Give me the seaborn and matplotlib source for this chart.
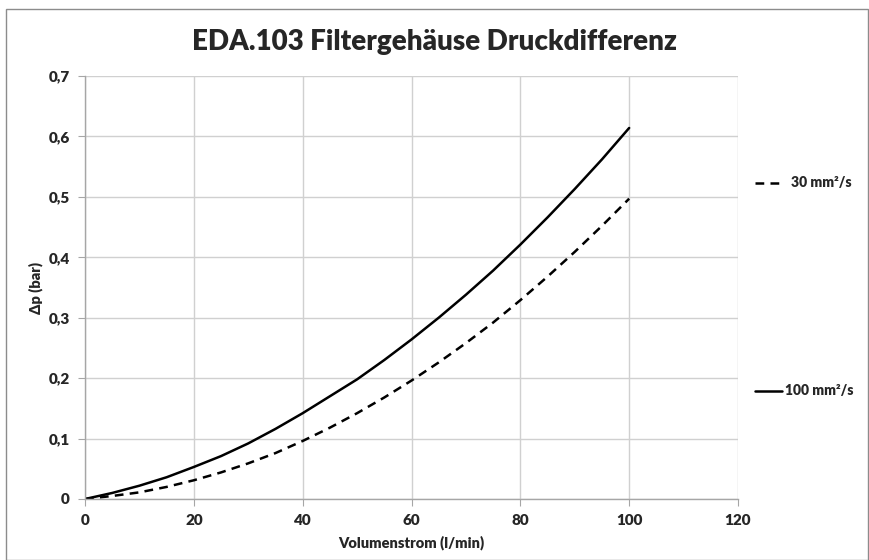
import pandas as pd
import matplotlib
matplotlib.use('Agg')
import matplotlib.pyplot as plt
import matplotlib.ticker as mticker
import seaborn as sns

# Volumenstrom (l/min) and pressure difference
flow = [0, 5, 10, 15, 20, 25, 30, 35, 40, 45, 50, 55, 60, 65, 70, 75, 80, 85, 90, 95, 100]
dp_30 = [0, 0.005, 0.011, 0.020, 0.031, 0.044, 0.059, 0.076, 0.096, 0.118, 0.142,
         0.168, 0.196, 0.226, 0.258, 0.292, 0.329, 0.368, 0.409, 0.452, 0.497]
dp_100 = [0, 0.010, 0.022, 0.036, 0.053, 0.071, 0.092, 0.116, 0.142, 0.170, 0.198,
          0.230, 0.264, 0.300, 0.338, 0.378, 0.421, 0.466, 0.513, 0.562, 0.614]
series_labels = ['30 mm²/s', '100 mm²/s']

x_ticks = [0, 20, 40, 60, 80, 100, 120]
y_ticks = [0, 0.1, 0.2, 0.3, 0.4, 0.5, 0.6, 0.7]

df = pd.concat([
    pd.DataFrame({'flow': flow, 'dp': dp_30, 'visc': series_labels[0]}),
    pd.DataFrame({'flow': flow, 'dp': dp_100, 'visc': series_labels[1]}),
])

sns.set_style('white')
plt.rcParams['font.family'] = ['Lato', 'DejaVu Sans']

fig = plt.figure(figsize=(8.69, 5.6), dpi=100)
ax = fig.add_axes([85 / 869, 1 - 499 / 560, (738 - 85) / 869, (499 - 76) / 560])

sns.lineplot(data=df, x='flow', y='dp', style='visc', color='black',
             dashes={series_labels[0]: (3.5, 2.5), series_labels[1]: ''},
             linewidth=1.8, ax=ax, legend=False)

ax.set_xlim(0, 120)
ax.set_ylim(0, 0.7)
ax.set_xticks(x_ticks)
ax.set_yticks(y_ticks)
ax.yaxis.set_major_formatter(mticker.FuncFormatter(
    lambda v, p: '0' if v == 0 else f'{v:.1f}'.replace('.', ',')))
ax.grid(True, color='#d0d0d0', linewidth=1)
for s in ['top', 'right']:
    ax.spines[s].set_visible(False)
for s in ['left', 'bottom']:
    ax.spines[s].set_color('#a6a6a6')
    ax.spines[s].set_linewidth(1)
ax.tick_params(axis='both', which='major', length=5, color='#a6a6a6',
               direction='out', bottom=True, left=True, labelsize=11, pad=6)
for lbl in ax.get_xticklabels() + ax.get_yticklabels():
    lbl.set_fontweight('heavy')

ax.set_xlabel('Volumenstrom (l/min)', fontsize=10.5, fontweight='heavy', labelpad=6)
ax.set_ylabel('Δp (bar)', fontsize=10.5, fontweight='heavy', labelpad=4)

fig.text(0.5, 1 - 42 / 560, 'EDA.103 Filtergehäuse Druckdifferenz', ha='center', va='center',
         fontsize=20, fontweight='heavy')

# legend entries placed at the right, at separate heights like the original
lines = ax.get_lines()
fig.legend(handles=[lines[0]], labels=[series_labels[0]], loc='center left',
           bbox_to_anchor=(742 / 869, 1 - 183 / 560), frameon=False,
           handlelength=2.0, handletextpad=0.6,
           prop={'weight': 'heavy', 'size': 10})
fig.legend(handles=[lines[1]], labels=[series_labels[1]], loc='center left',
           bbox_to_anchor=(742 / 869, 1 - 391 / 560), frameon=False,
           handlelength=2.0, handletextpad=0.2,
           prop={'weight': 'heavy', 'size': 10})

# outer chart border
fig.patches.append(plt.Rectangle((6 / 869, 0), 1 - 6 / 869 - 0.001, 1 - 9 / 560,
                                 transform=fig.transFigure, fill=False,
                                 edgecolor='#8c8c8c', linewidth=1))

fig.savefig('out.png', dpi=100)
